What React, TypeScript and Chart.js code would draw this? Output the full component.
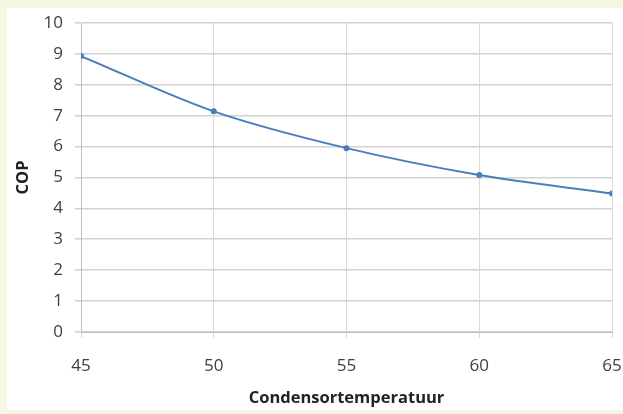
import React, { useEffect, useRef } from "react";
import { Chart, registerables } from "chart.js";

Chart.register(...registerables);

const temperatures = [45, 50, 55, 60, 65];
const copValues = [8.93, 7.14, 5.95, 5.08, 4.48];
const xTicks = [45, 50, 55, 60, 65];
const yTicks = [0, 1, 2, 3, 4, 5, 6, 7, 8, 9, 10];
const xTitle = "Condensortemperatuur";
const yTitle = "COP";

export default function App() {
  const canvasRef = useRef<HTMLCanvasElement | null>(null);

  useEffect(() => {
    document.body.style.margin = "0";
    const canvas = canvasRef.current;
    if (!canvas) return;
    const chart = new Chart(canvas, {
      type: "line",
      data: {
        datasets: [
          {
            label: yTitle,
            data: temperatures.map((t, i) => ({ x: t, y: copValues[i] })),
            borderColor: "#4a7ebb",
            backgroundColor: "#4a7ebb",
            borderWidth: 2,
            pointRadius: 2,
            pointHoverRadius: 2,
            cubicInterpolationMode: "monotone",
            fill: false,
          },
        ],
      },
      options: {
        animation: false,
        responsive: true,
        maintainAspectRatio: false,
        layout: { padding: { top: 15, right: 11, left: 0, bottom: 0 } },
        plugins: {
          legend: { display: false },
          tooltip: { enabled: false },
        },
        scales: {
          x: {
            type: "linear",
            min: xTicks[0],
            max: xTicks[xTicks.length - 1],
            afterBuildTicks: (scale: any) => {
              scale.ticks = xTicks.map((v) => ({ value: v }));
            },
            afterFit: (scale: any) => {
              scale.height = 78;
              scale.paddingLeft = 0;
              scale.paddingRight = 0;
            },
            grid: {
              color: "#d9d9d9",
              lineWidth: 1,
              tickLength: 6,
              drawTicks: true,
            },
            border: { color: "#bfbfbf", width: 1 },
            ticks: {
              padding: 18,
              color: "#404040",
              font: { family: "Open Sans", size: 17 },
              maxRotation: 0,
            },
            title: {
              display: true,
              text: xTitle,
              color: "#222222",
              font: { family: "Open Sans", size: 16.5, weight: "bold" },
              padding: { top: 0, bottom: 2 },
            },
          },
          y: {
            min: yTicks[0],
            max: yTicks[yTicks.length - 1],
            afterBuildTicks: (scale: any) => {
              scale.ticks = yTicks.map((v) => ({ value: v }));
            },
            afterFit: (scale: any) => {
              scale.width = 74;
              scale.paddingTop = 0;
              scale.paddingBottom = 0;
            },
            grid: {
              color: "#d2d2d2",
              lineWidth: 1.6,
              tickLength: 6,
              drawTicks: true,
            },
            border: { color: "#bfbfbf", width: 1 },
            ticks: {
              padding: 12,
              color: "#404040",
              font: { family: "Open Sans", size: 17 },
            },
            title: {
              display: true,
              text: yTitle,
              color: "#222222",
              font: { family: "Open Sans", size: 16.5, weight: "bold" },
              padding: { top: 6, bottom: 0 },
            },
          },
        },
      },
    });
    return () => chart.destroy();
  }, []);

  return (
    <div
      style={{
        position: "relative",
        width: 623,
        height: 414,
        background: "#f5f7e3",
        overflow: "hidden",
      }}
    >
      <div
        style={{
          position: "absolute",
          left: 7,
          top: 8,
          width: 616,
          height: 402,
          background: "#ffffff",
        }}
      >
        <canvas ref={canvasRef} />
      </div>
    </div>
  );
}
